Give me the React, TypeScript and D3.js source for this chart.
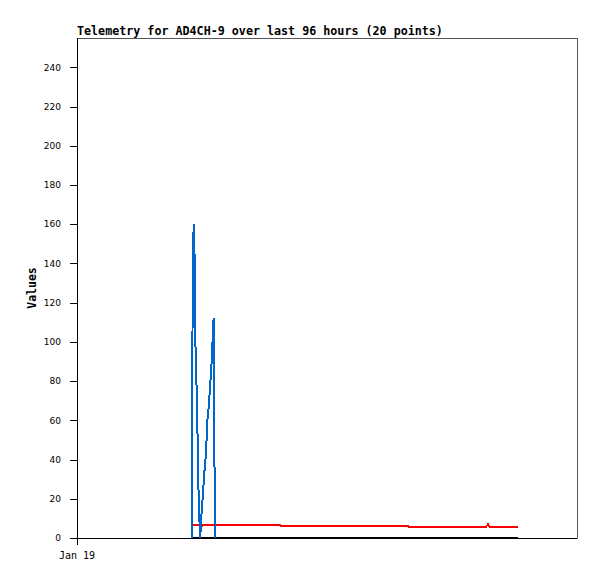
import React from "react";
import * as d3 from "d3";

const title = "Telemetry for AD4CH-9 over last 96 hours (20 points)";
const yLabel = "Values";
const xTickLabels = ["Jan 19"];
const xTickHours = [0];
const yTicks = [0, 20, 40, 60, 80, 100, 120, 140, 160, 180, 200, 220, 240];

// hours since Jan 19 00:00, value
const blueHours = [22.04, 22.08, 22.2, 22.39, 22.56, 22.77, 23.08, 23.19, 23.42, 23.67, 23.81, 23.96, 24.19, 24.44, 24.69, 24.92, 25.08, 25.31, 25.54, 25.8, 25.98, 26.11, 26.23, 26.38, 26.44];
const blueValues = [0, 40, 120, 160, 146, 93, 67, 41, 14, 0, 9, 14, 23, 33, 41, 52, 62, 67, 77, 87, 97, 107, 112, 56, 0];

const redHours = [22.14, 23.81, 23.95, 24.38, 38.98, 39.07, 63.55, 63.65, 78.53, 78.91, 79.3, 84.61];
const redValues = [6.7, 6.7, 6.2, 6.7, 6.7, 6.2, 6.2, 5.7, 5.7, 7.0, 5.7, 5.7];

const blackHours = [22.04, 84.61];
const blackValues = [0, 0];

const W = 597, H = 579;
const L = 77, R = 577, T = 38, B = 538;

export default function App() {
  const x = d3.scaleLinear().domain([0, 96]).range([L, R]);
  const y = d3.scaleLinear().domain([0, 255]).range([B, T]);
  const mk = (hs: number[], vs: number[]) =>
    d3.line<[number, number]>().x(d => x(d[0])).y(d => y(d[1]))(hs.map((h, i) => [h, vs[i]] as [number, number])) || "";
  const mono = "'DejaVu Sans Mono', monospace";
  return (
    <svg width={W} height={H} style={{ position: "absolute", left: 0, top: 0, background: "#fff" }}>
      <rect x={0} y={0} width={W} height={H} fill="#fff" />
      <text x={L} y={35} fontFamily={mono} fontWeight="bold" fontSize={11.7} fill="#000">{title}</text>
      {/* frame */}
      <line x1={L} y1={T + 0.5} x2={R + 0.5} y2={T + 0.5} stroke="#555" />
      <line x1={R + 0.5} y1={T} x2={R + 0.5} y2={B + 0.5} stroke="#555" />
      <line x1={L} y1={B + 0.5} x2={R} y2={B + 0.5} stroke="#000" />
      <line x1={L + 0.5} y1={T} x2={L + 0.5} y2={B + 7} stroke="#000" />
      {yTicks.map(t => (
        <g key={t}>
          <line x1={L - 7} x2={L} y1={Math.round(y(t)) + 0.5} y2={Math.round(y(t)) + 0.5} stroke="#000" />
          <text x={61} y={y(t)} dy="0.35em" textAnchor="end" fontFamily="'DejaVu Sans', sans-serif" fontSize={9} fill="#000">{t}</text>
        </g>
      ))}
      {xTickHours.map((h, i) => (
        <text key={i} x={x(h)} y={559} textAnchor="middle" fontFamily={mono} fontSize={10} fill="#000">{xTickLabels[i]}</text>
      ))}
      <text transform={`translate(36,${(T + B) / 2}) rotate(-90)`} textAnchor="middle" fontFamily={mono} fontWeight="bold" fontSize={11.5} fill="#000">{yLabel}</text>
      <path d={mk(blackHours, blackValues)} fill="none" stroke="#000" strokeWidth={2} shapeRendering="crispEdges" />
      <path d={mk(redHours, redValues)} fill="none" stroke="#ff0000" strokeWidth={2} shapeRendering="crispEdges" />
      <path d={mk(blueHours, blueValues)} fill="none" stroke="#0066cc" strokeWidth={2} shapeRendering="crispEdges" />
    </svg>
  );
}
